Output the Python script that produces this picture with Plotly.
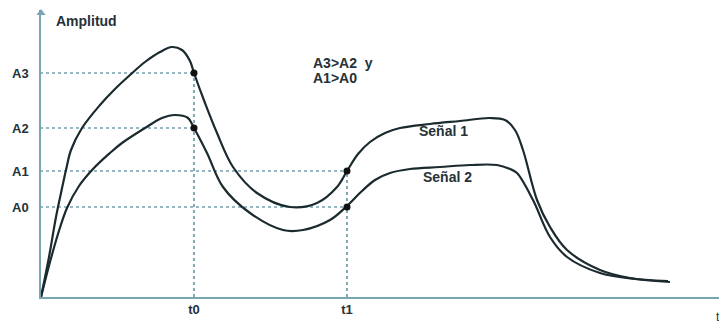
import plotly.graph_objects as go

# Data (x = time units, y = amplitude units)
sig1_x = [1, 9, 16, 21, 26, 31, 42, 60, 75, 90, 105, 120, 132, 142, 150, 154, 165, 177, 193, 217, 250, 277, 297, 307, 318, 330, 345, 360, 390, 420, 450, 465, 475, 483, 497, 510, 527, 560, 590, 628]
sig1_y = [0, 40, 80, 104, 127, 147, 169, 192, 208, 222, 235, 245, 250, 247, 236, 224, 194, 164, 130, 104, 90, 94, 110, 126, 143, 155, 164, 169, 173, 176, 179, 177, 167, 147, 97, 70, 47, 27, 19, 16]

sig2_x = [1, 10, 18, 27, 39, 53, 70, 82, 105, 122, 135, 148, 154, 167, 183, 210, 243, 263, 290, 307, 322, 335, 350, 370, 400, 430, 457, 470, 477, 493, 510, 527, 560, 595, 630]
sig2_y = [0, 35, 63, 89, 111, 128, 144, 154, 169, 179, 182, 179, 169, 144, 110, 84, 67, 67, 77, 91, 106, 117, 124, 128, 130, 132, 132, 128, 124, 97, 60, 40, 24, 18, 15]

t_vals = [154, 307]
t_text = ["t0", "t1"]
a_vals = [90, 126, 169, 224]
a_text = ["A0", "A1", "A2", "A3"]

LINE = "#1b2a2e"
DOT = "#2f7386"
AX = "#79a4b2"
TXT = "#263238"
FONT = "Liberation Sans"

fig = go.Figure()

# dotted guide lines
guides = [
    ([0, t_vals[0]], [a_vals[3], a_vals[3]]),
    ([0, t_vals[0]], [a_vals[2], a_vals[2]]),
    ([0, t_vals[1]], [a_vals[1], a_vals[1]]),
    ([0, t_vals[1]], [a_vals[0], a_vals[0]]),
    ([t_vals[0], t_vals[0]], [0, a_vals[3]]),
    ([t_vals[1], t_vals[1]], [0, a_vals[1]]),
]
for gx, gy in guides:
    fig.add_trace(go.Scatter(x=gx, y=gy, mode="lines",
                             line=dict(color=DOT, width=1.2, dash="dot"),
                             showlegend=False, hoverinfo="skip"))

for sx, sy in [(sig1_x, sig1_y), (sig2_x, sig2_y)]:
    fig.add_trace(go.Scatter(x=sx, y=sy, mode="lines",
                             line=dict(color=LINE, width=2.2, shape="spline", smoothing=1.0),
                             showlegend=False))

# points
fig.add_trace(go.Scatter(x=[t_vals[0], t_vals[0], t_vals[1], t_vals[1]],
                         y=[a_vals[3], a_vals[2], a_vals[1], a_vals[0]],
                         mode="markers", marker=dict(color="#111", size=7),
                         showlegend=False))

# y-axis arrow head
fig.add_trace(go.Scatter(x=[1], y=[284], mode="markers",
                         marker=dict(symbol="triangle-up", color=AX, size=8),
                         showlegend=False, cliponaxis=False))

ann_font = dict(family=FONT, size=14, color=TXT)
fig.add_annotation(x=14, y=276, text="<b>Amplitud</b>", showarrow=False,
                   xanchor="left", yanchor="middle", font=ann_font)
fig.add_annotation(x=271, y=234, text="<b>A3>A2&nbsp;&nbsp;y</b>", showarrow=False,
                   xanchor="left", yanchor="middle", font=ann_font)
fig.add_annotation(x=271, y=219, text="<b>A1>A0</b>", showarrow=False,
                   xanchor="left", yanchor="middle", font=ann_font)
fig.add_annotation(x=377, y=166, text="<b>Señal 1</b>", showarrow=False,
                   xanchor="left", yanchor="middle", font=ann_font)
fig.add_annotation(x=381, y=120, text="<b>Señal 2</b>", showarrow=False,
                   xanchor="left", yanchor="middle", font=ann_font)
fig.add_annotation(x=678, y=-0.07, yref="paper", text="t", showarrow=False,
                   xanchor="center", yanchor="middle",
                   font=dict(family=FONT, size=12, color=TXT))

fig.update_layout(
    width=727, height=327,
    margin=dict(l=33, r=8, t=2, b=38, autoexpand=False),
    paper_bgcolor="white", plot_bgcolor="white",
    xaxis=dict(range=[1, 687], showgrid=False, zeroline=False, automargin=False,
               showline=True, linecolor=AX, linewidth=1.5,
               tickvals=t_vals, ticktext=["<b>%s</b>" % t for t in t_text],
               ticks="", tickfont=dict(family=FONT, size=13, color=TXT)),
    yaxis=dict(range=[0, 287], showgrid=False, zeroline=False, automargin=False,
               showline=True, linecolor=AX, linewidth=1.5,
               tickvals=a_vals, ticktext=["<b>%s</b>" % a for a in a_text],
               ticks="", ticklabelstandoff=8,
               tickfont=dict(family=FONT, size=13, color=TXT)),
)

fig.write_html("out.html")
